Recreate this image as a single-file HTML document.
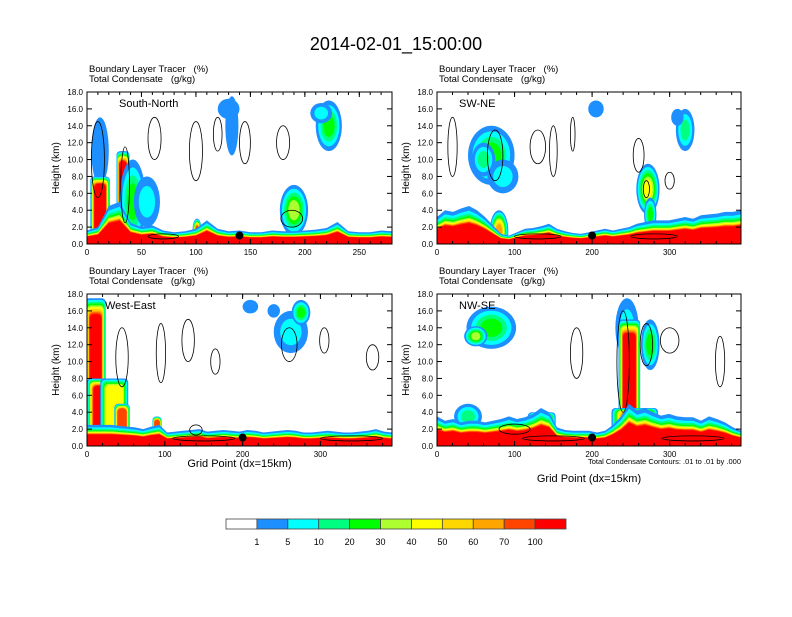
<!DOCTYPE html>
<html><head><meta charset="utf-8">
<style>
body{margin:0;background:#fff;}
svg text{font-family:"Liberation Sans",sans-serif;fill:#000;white-space:pre;}
</style></head>
<body>
<svg id="fig" width="792" height="612" viewBox="0 0 792 612" xmlns="http://www.w3.org/2000/svg">
<rect width="792" height="612" fill="#fff"/>
<text x="396" y="50" font-size="18" text-anchor="middle">2014-02-01_15:00:00</text>
<g id="panels"></g>
<g id="cbar"></g>
</svg>
<script>
const levelColors = ['#ffffff','#1e8fff','#00ffff','#00ff80','#00ff00','#adff2f','#ffff00','#ffd700','#ffa500','#ff4500','#ff0000'];
const levelLabels = ['1','5','10','20','30','40','50','60','70','100'];
const yTicks = [0,2,4,6,8,10,12,14,16,18];
const xTicksA = [0,50,100,150,200,250];
const xTicksB = [0,100,200,300];
// surface layer top heights (km) at evenly spaced grid points
const surfP1 = [1.6,2.0,4.5,5,2.5,2.0,2.2,1.6,1.4,1.5,1.8,2.8,1.8,1.5,1.6,1.4,1.4,1.6,1.5,1.5,1.6,1.7,1.9,2.6,1.5,1.4,1.4,1.6,1.5];
const surfP2 = [3.2,4,3.8,4.2,4.5,4,3.2,2.2,1.2,1.0,1.4,1.8,1.9,2.1,2.4,1.8,1.5,1.3,1.2,1.4,1.6,1.8,1.6,1.8,2.0,2.4,2.6,2.8,2.8,2.8,3.0,3.2,3.0,3.4,3.5,3.6,3.8,3.8,4.0];
const surfP3 = [2.5,2.5,2.5,2.5,2.4,2.3,2.2,2.0,2.3,2.5,1.6,1.7,1.8,1.9,2.0,1.7,1.8,1.9,1.8,1.7,1.9,1.8,1.6,1.7,1.8,1.9,1.8,1.6,1.6,1.7,1.8,1.7,1.6,1.6,1.7,1.8,2.0,1.7,1.6];
const surfP4 = [3.5,3.0,3.2,2.8,3.0,3.0,2.8,3.0,3.2,3.5,3.2,3.4,3.8,4.5,4.0,2.2,1.9,1.8,1.8,1.8,1.6,1.8,2.5,3.5,5.0,4.2,4.5,4.0,3.6,3.8,3.5,3.4,3.4,3.0,3.5,3.2,2.8,2.2,1.8];
// blobs: [x, z, rx, rz, peakLevel]  (z=0 => ground-based column)
const blobsP1 = [[12,11,8,4,1],[12,0,9,8,10],[33,0,6,11,10],[42,5,12,5,4],[55,5,12,3,2],[133,14,6,3.5,1],[130,16,10,1.2,1],[222,14,12,3,4],[215,15.5,10,1.2,2],[190,4,13,3,5],[101,1.8,4,1.2,9]];
const blobsP2 = [[70,10.5,30,3.5,4],[85,8,20,2,2],[60,10,15,2,3],[205,16,10,1,1],[320,13.5,12,2.5,3],[310,15,8,1,1],[272,6.5,15,3,6],[275,3.5,8,2,4],[80,1.5,12,2.5,8],[45,1.5,10,2.5,8]];
const blobsP3 = [[11,0,13,17.5,10],[20,0,20,8,10],[35,0,18,8,6],[45,0,10,5,9],[90,0,6,3.5,9],[262,13.5,22,2.5,2],[275,15.8,12,1.5,4],[210,16.5,10,0.8,1],[240,16,8,0.8,1]];
const blobsP4 = [[70,14,32,2.5,4],[50,13,15,1.2,5],[245,14,15,3.5,2],[248,0,14,15,10],[255,0,30,4.5,8],[275,12,12,3,4],[135,0,18,4,6],[40,3.5,18,1.5,3]];
// contours: [x, z, rx, rz]
const contP1 = [[10,10,6,4.5],[35,7,4,4.5],[62,12.5,6,2.5],[100,11,6,3.5],[120,13,4,2],[145,12,5,2.5],[180,12,6,2],[188,3,10,1],[70,0.9,14,0.3]];
const contP2 = [[20,11.5,6,3.5],[75,10.5,10,3],[130,11.5,10,2],[150,11,5,3],[175,13,3,2],[260,10.5,7,2],[300,7.5,6,1],[270,6.5,4,1],[130,0.9,30,0.3],[280,0.9,30,0.3]];
const contP3 = [[45,10.5,8,3.5],[95,11,6,3.5],[130,12.5,8,2.5],[165,10,6,1.5],[260,12,10,2],[305,12.5,6,1.5],[367,10.5,8,1.5],[140,1.9,8,0.6],[150,0.9,40,0.3],[340,0.9,40,0.3]];
const contP4 = [[180,11,8,3],[240,10,8,6],[270,12,8,2.5],[300,12.5,12,1.5],[365,10,6,3],[100,2,20,0.6],[150,0.9,40,0.3],[330,0.9,40,0.3]];
const dotXs = [140,200,200,200];

const NS='http://www.w3.org/2000/svg';
function mk(tag,attrs,parent){const e=document.createElementNS(NS,tag);for(const k in attrs)e.setAttribute(k,attrs[k]);if(parent)parent.appendChild(e);return e;}
const panelsG=document.getElementById('panels');
const bandF=[1,0.88,0.8,0.74,0.69,0.65,0.62,0.6,0.58,0.55];
const panels=[
 {x0:87,y0:92,w:305,h:152,xmax:280,ticks:xTicksA,label:'South-North',surf:surfP1,blobs:blobsP1,cont:contP1,dot:dotXs[0],xlab:null},
 {x0:437,y0:92,w:304,h:152,xmax:392,ticks:xTicksB,label:'SW-NE',surf:surfP2,blobs:blobsP2,cont:contP2,dot:dotXs[1],xlab:null},
 {x0:87,y0:294,w:305,h:152,xmax:392,ticks:xTicksB,label:'West-East',surf:surfP3,blobs:blobsP3,cont:contP3,dot:dotXs[2],xlab:467},
 {x0:437,y0:294,w:304,h:152,xmax:392,ticks:xTicksB,label:'NW-SE',surf:surfP4,blobs:blobsP4,cont:contP4,dot:dotXs[3],xlab:482,note:true}
];
panels.forEach((p,pi)=>{
 const g=mk('g',{},panelsG);
 
 
 const X=v=>p.x0+v/p.xmax*p.w, Y=z=>p.y0+p.h-z/18*p.h;
 const cp=mk('clipPath',{id:'cp'+pi},g); mk('rect',{x:p.x0,y:p.y0,width:p.w,height:p.h},cp);
 const plot=mk('g',{'clip-path':'url(#cp'+pi+')'},g);
 p.blobs.forEach(b=>{
  const ground=b[1]===0;
  for(let L=1;L<=b[4];L++){
   const f=(L-1)/b[4];
   let e;
   if(ground){
    const hw=Math.abs(X(b[2])-X(0))*(1-f*0.45), hh=Math.abs(Y(0)-Y(b[3]))*(1-f*0.12);
    e=mk('rect',{x:X(b[0])-hw,y:Y(0)-hh,width:2*hw,height:hh+2,rx:Math.min(hw,4),fill:levelColors[L]},plot);
   } else {
    const s=1-f*0.75;
    e=mk('ellipse',{cx:X(b[0]),cy:Y(b[1]),rx:Math.abs(X(b[2])-X(0))*s,ry:Math.abs(Y(0)-Y(b[3]))*s,fill:levelColors[L]},plot);
   }
   
   
  }
 });
 const n=p.surf.length;
 for(let L=1;L<=10;L++){
  let d='M'+X(0)+','+Y(0);
  p.surf.forEach((t,i)=>{d+=' L'+X(i/(n-1)*p.xmax).toFixed(1)+','+Y(t*bandF[L-1]).toFixed(1);});
  d+=' L'+X(p.xmax)+','+Y(0)+'Z';
  const a=mk('path',{d:d,fill:levelColors[L]},plot);
  
  
 }
 p.cont.forEach(c=>{
  const e=mk('ellipse',{cx:X(c[0]),cy:Y(c[1]),rx:Math.abs(X(c[2])-X(0)),ry:Math.abs(Y(0)-Y(c[3])),fill:'none',stroke:'#000','stroke-width':0.8},plot);
  
  
 });
 const dot=mk('circle',{cx:X(p.dot),cy:Y(1),r:4,fill:'#000'},g);
 
 
 mk('rect',{x:p.x0,y:p.y0,width:p.w,height:p.h,fill:'none',stroke:'#000','stroke-width':1},g);
 yTicks.forEach(t=>{
  mk('line',{x1:p.x0,x2:p.x0+5,y1:Y(t),y2:Y(t),stroke:'#000'},g);
  mk('line',{x1:p.x0+p.w,x2:p.x0+p.w-5,y1:Y(t),y2:Y(t),stroke:'#000'},g);
  const tx=mk('text',{x:p.x0-4,y:Y(t)+3,'font-size':8,'text-anchor':'end'},g); tx.textContent=t.toFixed(1);
  
  
 });
 const minor=p.xmax<300?10:20;
 for(let v=0;v<=p.xmax;v+=minor){mk('line',{x1:X(v),x2:X(v),y1:p.y0,y2:p.y0+3,stroke:'#000'},g);mk('line',{x1:X(v),x2:X(v),y1:p.y0+p.h,y2:p.y0+p.h-3,stroke:'#000'},g);}
 p.ticks.forEach(t=>{
  mk('line',{x1:X(t),x2:X(t),y1:p.y0+p.h,y2:p.y0+p.h-5,stroke:'#000'},g);
  mk('line',{x1:X(t),x2:X(t),y1:p.y0,y2:p.y0+5,stroke:'#000'},g);
  const tx=mk('text',{x:X(t),y:p.y0+p.h+11,'font-size':8,'text-anchor':'middle'},g); tx.textContent=t;
  
  
 });
 const yl=mk('text',{transform:'translate('+(p.x0-28)+','+(p.y0+p.h/2)+') rotate(-90)','font-size':10,'text-anchor':'middle'},g); yl.textContent='Height (km)';
 
 
 const t1=mk('text',{x:p.x0+2,y:p.y0-20,'font-size':9.5},g); t1.textContent='Boundary Layer Tracer   (%)';
 
 
 const t2=mk('text',{x:p.x0+2,y:p.y0-10,'font-size':9.5},g); t2.textContent='Total Condensate   (g/kg)';
 
 
 const lb=mk('text',{x:p.x0+(pi==0?32:pi==2?18:22),y:p.y0+15,'font-size':11},g); lb.textContent=p.label;
 
 
 if(p.xlab){const xl=mk('text',{x:p.x0+p.w/2,y:p.xlab,'font-size':11,'text-anchor':'middle'},g); xl.textContent='Grid Point (dx=15km)';
  
  }
 if(p.note){const nt=mk('text',{x:p.x0+p.w,y:p.y0+p.h+18,'font-size':7.5,'text-anchor':'end'},g); nt.textContent='Total Condensate Contours: .01 to .01 by .000';
  
  }
});
const cb=document.getElementById('cbar');
const bx=226,bw=340/11;
levelColors.forEach((c,i)=>{
 const r=mk('rect',{x:bx+i*bw,y:519,width:bw,height:10,fill:c,stroke:'#444','stroke-width':0.8},cb);
 
 
});
levelLabels.forEach((l,i)=>{
 const t=mk('text',{x:bx+(i+1)*bw,y:545,'font-size':9,'text-anchor':'middle'},cb); t.textContent=l;
 
 
});
</script>
</body></html>
